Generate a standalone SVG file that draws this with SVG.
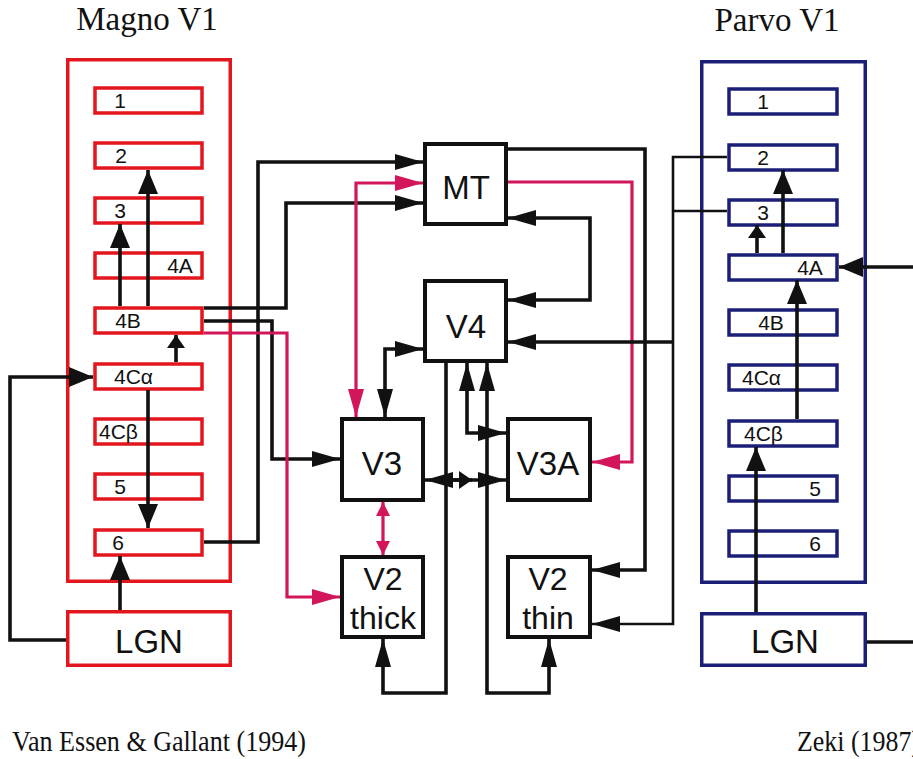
<svg xmlns="http://www.w3.org/2000/svg" width="913" height="759" viewBox="0 0 913 759">
<defs>
<style>
.bg{fill:#ffffff}
.outerM{fill:none;stroke:#e3161e;stroke-width:3.5}
.outerP{fill:none;stroke:#1c1f78;stroke-width:3.5}
.layM{fill:#fff;stroke:#e3161e;stroke-width:3.5}
.layP{fill:#fff;stroke:#1c1f78;stroke-width:3.5}
.box{fill:#fff;stroke:#111;stroke-width:4}
.lt{font-family:"Liberation Sans",Arial,sans-serif;font-size:21px;fill:#111}
.bt{font-family:"Liberation Sans",Arial,sans-serif;font-size:33px;fill:#111;text-anchor:middle}
.v2t{font-family:"Liberation Sans",Arial,sans-serif;font-size:32px;fill:#111;text-anchor:middle}
.title{font-family:"Liberation Serif","Times New Roman",serif;font-size:33px;fill:#111;text-anchor:middle}
.cap{font-family:"Liberation Serif","Times New Roman",serif;font-size:30px;fill:#111}
.c{fill:none;stroke:#111;stroke-width:3.6;stroke-linejoin:miter}
.ct{fill:none;stroke:#111;stroke-width:2.6}
.pk{fill:none;stroke:#d3155c;stroke-width:3.2}
.m{text-anchor:middle}
</style>
<marker id="a" markerUnits="userSpaceOnUse" markerWidth="28" markerHeight="16" refX="28" refY="8" orient="auto-start-reverse" overflow="visible"><path d="M0,0 L28,8 L0,16 Z" fill="#111"/></marker>
<marker id="w" markerUnits="userSpaceOnUse" markerWidth="24" markerHeight="20" refX="24" refY="10" orient="auto-start-reverse" overflow="visible"><path d="M0,0 L24,10 L0,20 Z" fill="#111"/></marker>
<marker id="s" markerUnits="userSpaceOnUse" markerWidth="13" markerHeight="18" refX="13" refY="9" orient="auto-start-reverse" overflow="visible"><path d="M0,0 L13,9 L0,18 Z" fill="#111"/></marker>
<marker id="p" markerUnits="userSpaceOnUse" markerWidth="28" markerHeight="16" refX="28" refY="8" orient="auto-start-reverse" overflow="visible"><path d="M0,0 L28,8 L0,16 Z" fill="#d3155c"/></marker>
<marker id="ps" markerUnits="userSpaceOnUse" markerWidth="14" markerHeight="14" refX="14" refY="7" orient="auto-start-reverse" overflow="visible"><path d="M0,0 L14,7 L0,14 Z" fill="#d3155c"/></marker>
</defs>
<rect class="bg" x="0" y="0" width="913" height="759"/>

<text class="title" x="147" y="30">Magno V1</text>
<text class="title" x="777" y="31">Parvo V1</text>

<g id="magno-v1">
<rect class="outerM" x="67.75" y="59.75" width="162.5" height="521.5"/>
</g>
<g id="magno-1"><rect class="layM" x="95" y="88" width="107" height="25"/><text class="lt m" x="120" y="108">1</text></g>
<g id="magno-2"><rect class="layM" x="95" y="143" width="107" height="25"/><text class="lt m" x="121" y="163">2</text></g>
<g id="magno-3"><rect class="layM" x="95" y="198" width="107" height="25"/><text class="lt m" x="120" y="218">3</text></g>
<g id="magno-4A"><rect class="layM" x="95" y="253" width="107" height="25"/><text class="lt m" x="180" y="273">4A</text></g>
<g id="magno-4B"><rect class="layM" x="95" y="308" width="107" height="25"/><text class="lt m" x="128" y="328">4B</text></g>
<g id="magno-4Ca"><rect class="layM" x="95" y="364" width="107" height="25"/><text class="lt" x="114" y="384">4Cα</text></g>
<g id="magno-4Cb"><rect class="layM" x="95" y="419" width="107" height="25"/><text class="lt" x="99" y="439">4Cβ</text></g>
<g id="magno-5"><rect class="layM" x="95" y="474" width="107" height="25"/><text class="lt m" x="120" y="494">5</text></g>
<g id="magno-6"><rect class="layM" x="95" y="530" width="107" height="25"/><text class="lt m" x="118" y="550">6</text></g>
<g id="magno-lgn"><rect class="layM" x="67.75" y="611.75" width="162.5" height="53.5"/><text class="bt" x="149" y="653">LGN</text></g>

<g id="parvo-v1">
<rect class="outerP" x="701.75" y="61.75" width="163.5" height="520.5"/>
</g>
<g id="parvo-1"><rect class="layP" x="729" y="89" width="108" height="25"/><text class="lt m" x="763" y="109">1</text></g>
<g id="parvo-2"><rect class="layP" x="729" y="145" width="108" height="25"/><text class="lt m" x="763" y="165">2</text></g>
<g id="parvo-3"><rect class="layP" x="729" y="200" width="108" height="25"/><text class="lt m" x="763" y="220">3</text></g>
<g id="parvo-4A"><rect class="layP" x="729" y="255" width="108" height="25"/><text class="lt m" x="810" y="275">4A</text></g>
<g id="parvo-4B"><rect class="layP" x="729" y="310" width="108" height="25"/><text class="lt m" x="771" y="330">4B</text></g>
<g id="parvo-4Ca"><rect class="layP" x="729" y="365" width="108" height="25"/><text class="lt" x="742" y="385">4Cα</text></g>
<g id="parvo-4Cb"><rect class="layP" x="729" y="421" width="108" height="25"/><text class="lt" x="744" y="441">4Cβ</text></g>
<g id="parvo-5"><rect class="layP" x="729" y="476" width="108" height="25"/><text class="lt m" x="815" y="496">5</text></g>
<g id="parvo-6"><rect class="layP" x="729" y="531" width="108" height="25"/><text class="lt m" x="815" y="551">6</text></g>
<g id="parvo-lgn"><rect class="layP" x="701.75" y="613.75" width="163.5" height="51.5"/><text class="bt" x="785" y="653">LGN</text></g>

<g id="connectors">
<path class="c" d="M66,640 H10 V377 H93" marker-end="url(#w)"/>
<path class="c" d="M120,610 V556" marker-end="url(#w)"/>
<path class="c" d="M176,362 V335" marker-end="url(#s)"/>
<path class="c" d="M148,390 V528" marker-end="url(#w)"/>
<path class="c" d="M120,306 V224" marker-end="url(#w)"/>
<path class="c" d="M148,306 V170" marker-end="url(#w)"/>
<path class="c" d="M204,542 H258 V162 H423" marker-end="url(#a)"/>
<path class="c" d="M204,308 H286 V203 H423" marker-end="url(#a)"/>
<path class="c" d="M204,321 H272 V459 H340" marker-end="url(#a)"/>
<path class="pk" d="M204,333 H287 V597 H340" marker-end="url(#p)"/>
<path class="pk" d="M423,183 H356 V417" marker-start="url(#p)" marker-end="url(#p)"/>
<path class="c" d="M508,218 H590 V300 H508" marker-start="url(#a)" marker-end="url(#a)"/>
<path class="c" d="M508,149 H645 V570 H592" marker-end="url(#a)"/>
<path class="pk" d="M508,182 H632 V462 H592" marker-end="url(#p)"/>
<path class="c" d="M423,349 H385 V417" marker-start="url(#a)" marker-end="url(#a)"/>
<path class="c" d="M467,363 V433 H506" marker-start="url(#a)" marker-end="url(#a)"/>
<path class="c" d="M446,363 V693 H383 V639" marker-end="url(#a)"/>
<path class="c" d="M487,363 V693 H549 V639" marker-start="url(#a)" marker-end="url(#a)"/>
<path class="c" d="M673,342 H508" marker-end="url(#a)"/>
<path class="c" d="M425,480 H506" marker-start="url(#a)" marker-end="url(#a)"/>
<path class="c" d="M450,480 H472" marker-end="url(#s)"/>
<path class="pk" d="M383,502 V555" marker-start="url(#ps)" marker-end="url(#ps)"/>
<path class="ct" d="M727,157 H673 V624 H592" marker-end="url(#a)"/>
<path class="ct" d="M727,211 H673"/>
<path class="c" d="M757,253 V225" marker-end="url(#s)"/>
<path class="c" d="M783,253 V170" marker-end="url(#w)"/>
<path class="c" d="M797,419 V280" marker-end="url(#w)"/>
<path class="c" d="M756,612 V447" marker-end="url(#w)"/>
<path class="c" d="M913,267 H839" marker-end="url(#w)"/>
<path class="c" d="M867,642 H913"/>
</g>

<g id="MT"><rect class="box" x="425" y="144" width="81" height="80"/><text class="bt" x="466" y="199">MT</text></g>
<g id="V4"><rect class="box" x="425" y="281" width="81" height="80"/><text class="bt" x="466" y="338">V4</text></g>
<g id="V3"><rect class="box" x="342" y="419" width="81" height="81"/><text class="bt" x="382" y="475">V3</text></g>
<g id="V3A"><rect class="box" x="508" y="419" width="82" height="81"/><text class="bt" x="548" y="475">V3A</text></g>
<g id="V2-thick"><rect class="box" x="342" y="557" width="81" height="80"/><text class="v2t" x="383" y="590">V2</text><text class="v2t" x="383" y="629">thick</text></g>
<g id="V2-thin"><rect class="box" x="508" y="557" width="82" height="80"/><text class="v2t" x="548" y="590">V2</text><text class="v2t" x="548" y="629">thin</text></g>

<text class="cap" x="12" y="751" textLength="294" lengthAdjust="spacingAndGlyphs">Van Essen &amp; Gallant (1994)</text>
<text class="cap" x="797" y="751" textLength="123" lengthAdjust="spacingAndGlyphs">Zeki (1987)</text>
</svg>
